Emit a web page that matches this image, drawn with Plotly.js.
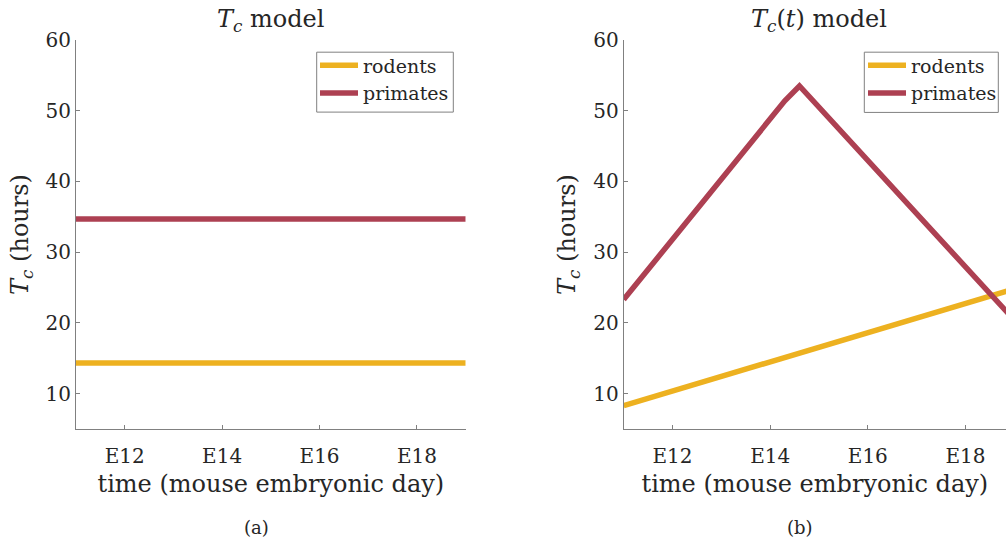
<!DOCTYPE html>
<html>
<head>
<meta charset="utf-8">
<script src="https://cdn.plot.ly/plotly-3.0.1.min.js"></script>
<style>html,body{margin:0;padding:0;background:#fff;} #chart{width:1006px;height:542px;}</style>
</head>
<body>
<div id="chart"></div>
<script>
// ---- data ----
const tickDays = [12, 14, 16, 18];
const tickLabels = ["E12", "E14", "E16", "E18"];
const yTicks = [10, 20, 30, 40, 50, 60];

// (a) constant Tc model
const constDays = [11, 19];
const constRodents = [14.33, 14.33];
const constPrimates = [34.68, 34.68];

// (b) time-dependent Tc(t) model
const varRodentDays = [11, 19];
const varRodents = [8.3, 24.8];
const varPrimateDays = [11, 14.3, 14.6, 19];
const varPrimates = [23.3, 51.4, 53.5, 20.4];

const seriesNames = ["rodents", "primates"];
const colors = ["#EDB120", "rgb(173,64,82)"];

const FONT = "DejaVu Serif";
const TXT = "#262626";
const AX = "#808080";
const LW = 5.5;

// pixel helpers (plot area: x 76..1006, y 39.5..429)
const PX = p => (p - 76) / 930;
const PY = p => (429 - p) / 389.5;

const traces = [
  {x: constDays, y: constRodents, name: seriesNames[0], xaxis: "x", yaxis: "y", legend: "legend",
   mode: "lines", line: {color: colors[0], width: LW}},
  {x: constDays, y: constPrimates, name: seriesNames[1], xaxis: "x", yaxis: "y", legend: "legend",
   mode: "lines", line: {color: colors[1], width: LW}},
  {x: varRodentDays, y: varRodents, name: seriesNames[0], xaxis: "x2", yaxis: "y2", legend: "legend2",
   mode: "lines", line: {color: colors[0], width: LW}},
  {x: varPrimateDays, y: varPrimates, name: seriesNames[1], xaxis: "x2", yaxis: "y2", legend: "legend2",
   mode: "lines", line: {color: colors[1], width: LW}}
];

function xax(domain, range) {
  return {
    domain: domain, range: range, tickvals: tickDays, ticktext: tickLabels,
    ticks: "inside", ticklen: 4, tickcolor: AX, showline: true, linecolor: AX, linewidth: 1,
    showgrid: false, zeroline: false, tickfont: {family: FONT, size: 20, color: TXT},
    ticklabelstandoff: 9,
    title: {text: "time (mouse embryonic day)", font: {family: FONT, size: 24, color: TXT}, standoff: 8},
    fixedrange: true
  };
}
function yax(anchor) {
  return {
    anchor: anchor, range: [5, 60], tickvals: yTicks,
    ticks: "inside", ticklen: 4, tickcolor: AX, showline: true, linecolor: AX, linewidth: 1,
    showgrid: false, zeroline: false, tickfont: {family: FONT, size: 20, color: TXT},
    title: {text: "<i>T</i><sub><i>c</i></sub> (hours)", font: {family: FONT, size: 24, color: TXT}, standoff: 10},
    fixedrange: true
  };
}
function leg(xpx) {
  return {
    x: PX(xpx), y: PY(46), xanchor: "left", yanchor: "top", xref: "paper", yref: "paper",
    bgcolor: "rgba(0,0,0,0)", borderwidth: 0,
    font: {family: FONT, size: 19, color: TXT}, tracegroupgap: 0, itemwidth: 38
  };
}
function box(x0, x1, y0, y1) {
  return {type: "rect", xref: "paper", yref: "paper", x0: PX(x0), x1: PX(x1), y0: PY(y1), y1: PY(y0),
    line: {color: AX, width: 1}, fillcolor: "#fff", layer: "above"};
}

const layout = {
  width: 1006, height: 542,
  margin: {l: 76, r: 0, t: 39.5, b: 113},
  paper_bgcolor: "#fff", plot_bgcolor: "#fff",
  showlegend: true,
  xaxis: Object.assign(xax([0, PX(465.7)], [11, 19]), {anchor: "y"}),
  yaxis: yax("x"),
  xaxis2: Object.assign(xax([PX(623.7), 1], [11, 18.83]), {anchor: "y2"}),
  yaxis2: yax("x2"),
  legend: leg(315),
  legend2: leg(863),
  shapes: [box(316.7, 453.3, 51.7, 111.7), box(864.3, 998.3, 51.7, 112)],
  annotations: [
    {text: "<i>T</i><sub><i>c</i></sub> model", x: PX(270.8), y: 1, xref: "paper", yref: "paper",
     xanchor: "center", yanchor: "bottom", yshift: 2, showarrow: false, font: {family: FONT, size: 24, color: TXT}},
    {text: "<i>T</i><sub><i>c</i></sub>(<i>t</i>) model", x: PX(818.9), y: 1, xref: "paper", yref: "paper",
     xanchor: "center", yanchor: "bottom", yshift: 2, showarrow: false, font: {family: FONT, size: 24, color: TXT}},
    {text: "(a)", x: PX(256), y: PY(528), xref: "paper", yref: "paper",
     xanchor: "center", yanchor: "middle", showarrow: false, font: {family: FONT, size: 18, color: TXT}},
    {text: "(b)", x: PX(800), y: PY(528), xref: "paper", yref: "paper",
     xanchor: "center", yanchor: "middle", showarrow: false, font: {family: FONT, size: 18, color: TXT}}
  ]
};

Plotly.newPlot("chart", traces, layout, {displayModeBar: false, staticPlot: true});
</script>
</body>
</html>
